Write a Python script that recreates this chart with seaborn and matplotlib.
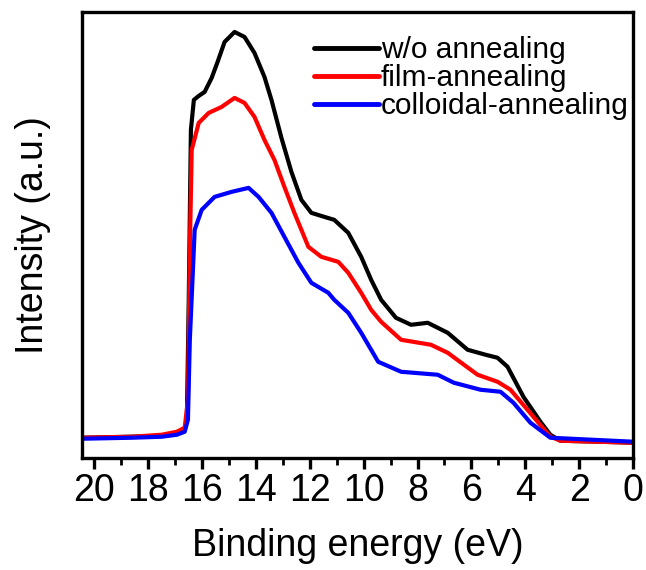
import numpy as np
import pandas as pd
import matplotlib
matplotlib.use("Agg")
import matplotlib.pyplot as plt
from matplotlib.ticker import MultipleLocator
import seaborn as sns

# ---- data ----
series_names = ["w/o annealing", "film-annealing", "colloidal-annealing"]
series_colors = ["#000000", "#ff0000", "#0000ff"]

energy_wo = [20.44, 18.6, 17.49, 16.93, 16.67, 16.56, 16.49, 16.41, 16.3, 16.12, 15.9, 15.64,
             15.42, 15.16, 14.79, 14.42, 14.05, 13.68, 13.42, 13.05, 12.68, 12.31, 11.94, 11.46,
             11.09, 10.57, 10.09, 9.72, 9.35, 8.8, 8.24, 7.62, 6.88, 6.14, 5.47, 5.03, 4.66,
             4.07, 3.44, 3.07, 2.7, 1.22, 0.0]
intensity_wo = [20, 21, 22, 24, 27, 38, 158, 328, 358, 362, 366, 380,
                396, 416, 426, 421, 405, 381, 358, 320, 286, 258, 245, 241,
                238, 225, 201, 178, 158, 140, 133, 135, 125, 108, 103, 100, 91,
                61, 36, 23, 17, 16, 15]

energy_film = [20.44, 18.6, 17.49, 16.93, 16.64, 16.52, 16.45, 16.38, 16.12, 15.75, 15.27, 14.79,
               14.42, 14.05, 13.68, 13.31, 12.94, 12.57, 12.05, 11.57, 10.94, 10.57, 10.09, 9.72,
               9.35, 8.61, 7.5, 6.88, 5.77, 5.03, 4.55, 3.92, 3.07, 2.7, 0.0]
intensity_film = [20, 21, 23, 26, 30, 58, 208, 308, 335, 345, 351, 360,
                  355, 341, 318, 298, 271, 245, 211, 201, 196, 185, 165, 148,
                  136, 118, 113, 105, 83, 76, 68, 48, 21, 17, 15]

energy_coll = [20.44, 18.6, 17.49, 16.93, 16.64, 16.52, 16.45, 16.27, 16.01, 15.53, 14.9, 14.27,
               13.9, 13.42, 12.94, 12.42, 11.94, 11.31, 11.09, 10.57, 10.09, 9.46, 8.61, 7.25,
               6.65, 5.66, 4.92, 4.44, 3.81, 3.07, 0.0]
intensity_coll = [19, 20, 21, 23, 26, 38, 118, 228, 248, 261, 266, 270,
                  261, 245, 221, 195, 175, 165, 158, 145, 125, 96, 86, 83,
                  75, 68, 66, 55, 35, 20, 16]

x_ticks = [20, 18, 16, 14, 12, 10, 8, 6, 4, 2, 0]

frames = []
for name, e, i in zip(series_names,
                      [energy_wo, energy_film, energy_coll],
                      [intensity_wo, intensity_film, intensity_coll]):
    frames.append(pd.DataFrame({"Binding energy": e, "Intensity": i, "Sample": name}))
df = pd.concat(frames, ignore_index=True)

# ---- style ----
sns.set_style("ticks")
plt.rcParams["font.family"] = ["Liberation Sans", "DejaVu Sans"]
plt.rcParams["text.color"] = "black"
plt.rcParams["axes.labelcolor"] = "black"
plt.rcParams["xtick.color"] = "black"
plt.rcParams["ytick.color"] = "black"

fig = plt.figure(figsize=(6.46, 5.70), dpi=100)
ax = fig.add_axes([0.127, 0.197, 0.853, 0.782])

sns.lineplot(data=df, x="Binding energy", y="Intensity", hue="Sample",
             hue_order=series_names, palette=series_colors,
             estimator=None, sort=False, linewidth=3.0, ax=ax)

ax.set_xlim(20.45, 0)
ax.set_ylim(0, 446)
ax.set_xticks(x_ticks)
ax.set_xticklabels([str(t) for t in x_ticks])
ax.xaxis.set_minor_locator(MultipleLocator(1))
ax.set_yticks([])

for s in ax.spines.values():
    s.set_visible(True)
    s.set_linewidth(2.4)
    s.set_color("black")

ax.tick_params(axis="x", which="major", direction="out", length=8, width=2.4,
               labelsize=27, pad=3, colors="black")
ax.tick_params(axis="x", which="minor", direction="out", length=5, width=2.0)

ax.set_xlabel("Binding energy (eV)", fontsize=27, labelpad=14, color="black")
ax.set_ylabel("Intensity (a.u.)", fontsize=27, labelpad=22, color="black")

leg = ax.legend(loc="upper right", bbox_to_anchor=(1.03, 0.993), frameon=False,
                fontsize=21.5, handlelength=2.2, handletextpad=0.05,
                labelspacing=0.0, borderaxespad=0.3)
for t in leg.get_texts():
    t.set_color("black")
for line in leg.get_lines():
    line.set_linewidth(3.5)

fig.savefig("out.png", dpi=100)
